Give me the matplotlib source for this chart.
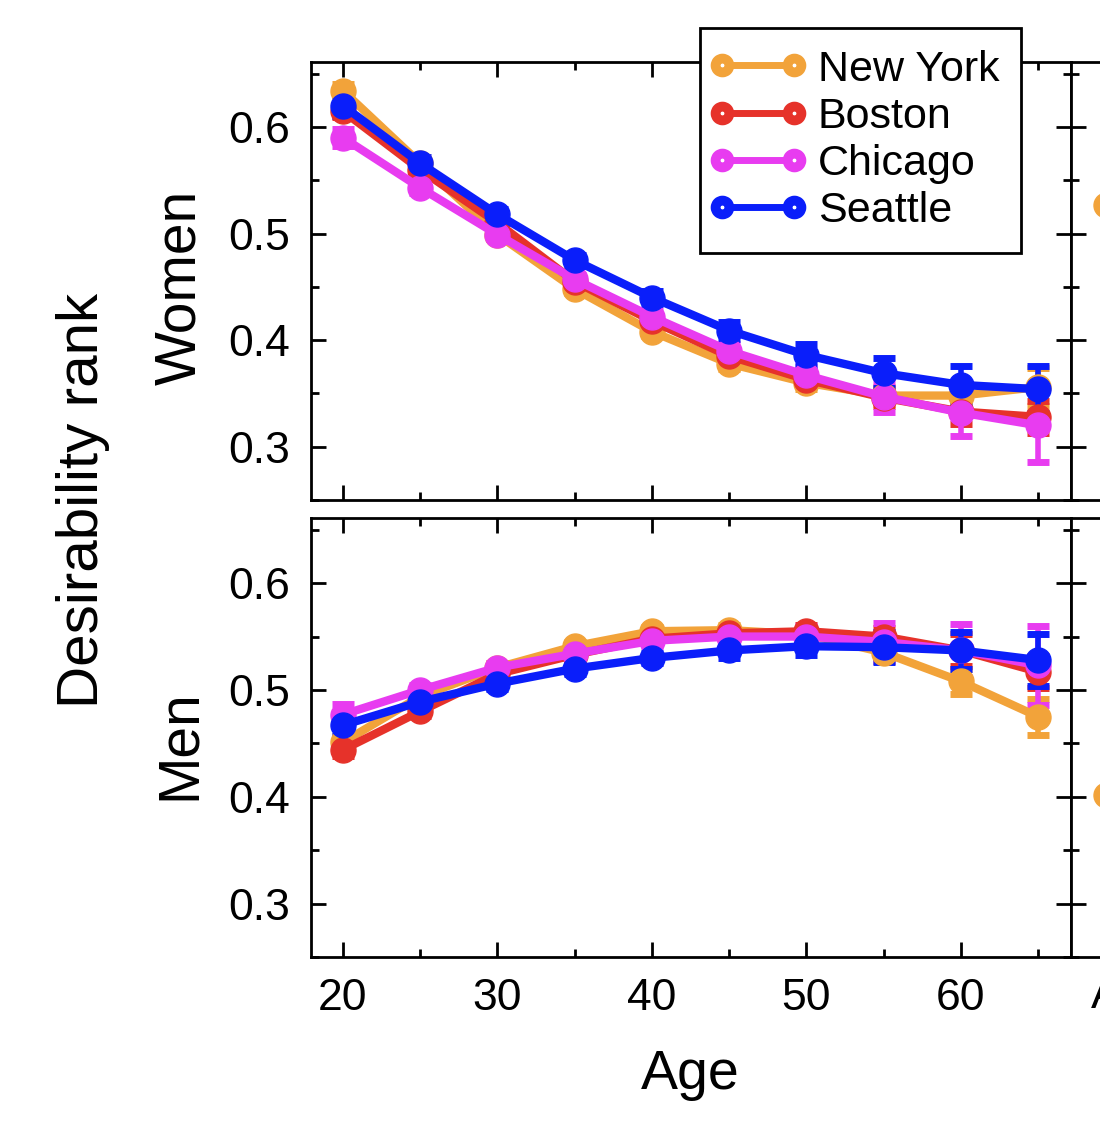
import matplotlib
matplotlib.use("Agg")
import matplotlib.pyplot as plt
from matplotlib.lines import Line2D
from matplotlib.legend_handler import HandlerLine2D

plt.rcParams['font.family'] = ['Liberation Sans', 'DejaVu Sans']

ages = [20, 25, 30, 35, 40, 45, 50, 55, 60, 65]
cities = ["New York", "Boston", "Chicago", "Seattle"]
colors = ["#F2A33A", "#E6322A", "#E83CF0", "#0A1EFA"]

women = {
    "New York": [0.634, 0.566, 0.499, 0.448, 0.408, 0.378, 0.360, 0.348, 0.348, 0.356],
    "Boston":   [0.615, 0.560, 0.510, 0.455, 0.418, 0.385, 0.363, 0.346, 0.333, 0.328],
    "Chicago":  [0.590, 0.543, 0.499, 0.457, 0.422, 0.390, 0.367, 0.347, 0.332, 0.320],
    "Seattle":  [0.620, 0.566, 0.518, 0.475, 0.440, 0.409, 0.386, 0.369, 0.358, 0.354],
}
women_err = {
    "New York": [0.006, 0.004, 0.004, 0.004, 0.004, 0.005, 0.006, 0.008, 0.010, 0.018],
    "Boston":   [0.006, 0.004, 0.004, 0.004, 0.004, 0.005, 0.006, 0.008, 0.012, 0.015],
    "Chicago":  [0.008, 0.005, 0.004, 0.004, 0.005, 0.006, 0.008, 0.014, 0.022, 0.034],
    "Seattle":  [0.010, 0.006, 0.005, 0.005, 0.006, 0.008, 0.010, 0.014, 0.018, 0.022],
}
men = {
    "New York": [0.451, 0.494, 0.521, 0.541, 0.555, 0.556, 0.552, 0.535, 0.508, 0.475],
    "Boston":   [0.444, 0.480, 0.515, 0.533, 0.548, 0.553, 0.555, 0.550, 0.537, 0.517],
    "Chicago":  [0.477, 0.500, 0.521, 0.534, 0.546, 0.550, 0.550, 0.545, 0.537, 0.523],
    "Seattle":  [0.467, 0.489, 0.506, 0.520, 0.530, 0.537, 0.541, 0.540, 0.537, 0.528],
}
men_err = {
    "New York": [0.006, 0.004, 0.004, 0.004, 0.004, 0.005, 0.006, 0.008, 0.012, 0.017],
    "Boston":   [0.006, 0.004, 0.004, 0.004, 0.004, 0.005, 0.006, 0.008, 0.015, 0.015],
    "Chicago":  [0.010, 0.005, 0.004, 0.004, 0.005, 0.006, 0.010, 0.018, 0.025, 0.037],
    "Seattle":  [0.010, 0.006, 0.005, 0.005, 0.005, 0.007, 0.008, 0.014, 0.017, 0.024],
}

# partially visible neighbouring panel (cropped at right edge)
right_cats = ["A"]
right_women = [0.527]
right_men = [0.402]

xticks = [20, 30, 40, 50, 60]
yticks = [0.3, 0.4, 0.5, 0.6]

W, H = 1100, 1130
fig = plt.figure(figsize=(W / 100, H / 100), dpi=100)

L, R = 311, 1071
def fx(px): return px / W
def fy(py): return 1 - py / H

ax_top = fig.add_axes([fx(L), fy(500), fx(R - L), (500 - 62) / H])
ax_bot = fig.add_axes([fx(L), fy(957), fx(R - L), (957 - 518) / H])
axr_top = fig.add_axes([fx(R), fy(500), 0.7, (500 - 62) / H])
axr_bot = fig.add_axes([fx(R), fy(957), 0.7, (957 - 518) / H])

def style(ax):
    ax.set_ylim(0.251, 0.661)
    for s in ax.spines.values():
        s.set_linewidth(2.0)
    ax.tick_params(which="both", direction="in", width=2.0, top=True, bottom=True,
                   labelsize=32, pad=15)
    ax.tick_params(which="major", length=11)
    ax.tick_params(which="minor", length=6)
    ax.set_yticks(yticks)
    ax.set_yticks([0.25, 0.35, 0.45, 0.55, 0.65], minor=True)

for ax, data, err in [(ax_top, women, women_err), (ax_bot, men, men_err)]:
    for city, c in zip(cities, colors):
        ax.errorbar(ages, data[city], yerr=err[city], fmt="-o", color=c, lw=6,
                    ms=18, capsize=8, capthick=5, elinewidth=4)
    style(ax)
    ax.tick_params(which="both", left=True, right=True, labelright=False)
    ax.set_xlim(17.93, 67.12)
    ax.set_xticks(xticks)
    ax.set_xticks([25, 35, 45, 55, 65], minor=True)
    ax.set_yticklabels([f"{v:.1f}" for v in yticks])

ax_top.tick_params(labelbottom=False)

for ax, vals in [(axr_top, right_women), (axr_bot, right_men)]:
    ax.plot(range(len(right_cats)), vals, "o", color=colors[0], ms=18)
    style(ax)
    ax.tick_params(which="both", left=True, right=False, labelleft=False, top=False, bottom=False)
    ax.set_xlim(-0.35, 7.35)
    ax.set_xticks(range(len(right_cats)))
    ax.set_xticklabels(right_cats)
axr_top.tick_params(labelbottom=False)
axr_bot.tick_params(axis="x", labelsize=32, pad=14)

fig.text(fx(180), fy(287), "Women", rotation=90, fontsize=41, ha="center", va="center")
fig.text(fx(180), fy(745), "Men", rotation=90, fontsize=41, ha="center", va="center")
fig.text(fx(83), fy(500), "Desirability rank", rotation=90, fontsize=42, ha="center", va="center")
fig.text(fx(690), fy(1075), "Age", fontsize=40, ha="center", va="center")

handles = [Line2D([0], [0], color=c, lw=5, marker="o", ms=10, mfc="white", mec=c, mew=7)
           for c in colors]
leg = fig.legend(handles, cities, loc="upper left", bbox_to_anchor=(fx(700), fy(28)),
                 borderaxespad=0, fontsize=31, handlelength=1.68, handletextpad=0.55,
                 labelspacing=0.17, borderpad=0.5, numpoints=2, fancybox=False,
                 framealpha=1, edgecolor="black",
                 handler_map={Line2D: HandlerLine2D(marker_pad=0.0)})
leg.get_frame().set_linewidth(2.0)
leg.set_zorder(10)

fig.savefig("out.png", dpi=100)
